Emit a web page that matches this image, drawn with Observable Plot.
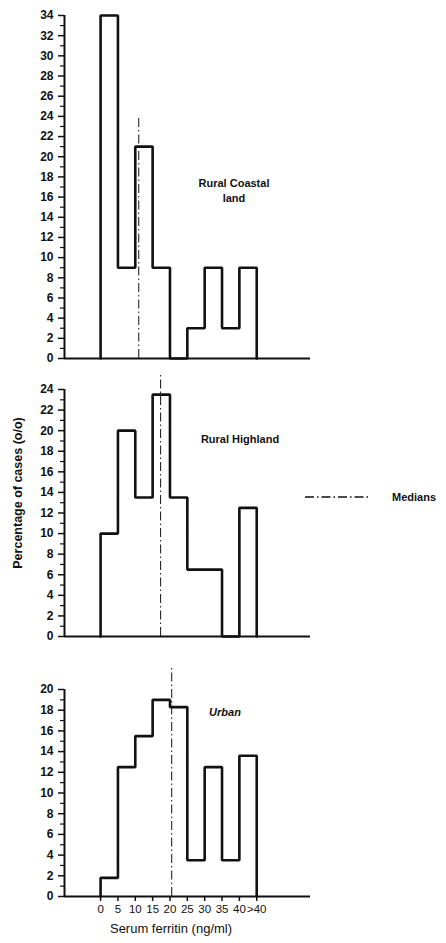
<!DOCTYPE html>
<html>
<head>
<meta charset="utf-8">
<script src="https://cdn.jsdelivr.net/npm/d3@7"></script>
<script src="https://cdn.jsdelivr.net/npm/@observablehq/plot@0.6"></script>
<style>
  html, body { margin: 0; padding: 0; background: #fff; }
  #wrap { position: relative; width: 446px; height: 943px; font-family: "Liberation Sans", Arial, sans-serif; color: #111; }
  .panel { position: absolute; left: 0; }
  .lbl { position: absolute; font-weight: bold; font-size: 11px; white-space: nowrap; }
</style>
</head>
<body>
<div id="wrap"></div>
<script>
// ---- data ----
const binLabels = ["0", "5", "10", "15", "20", "25", "30", "35", "40", ">40"];
const coastal  = [34, 9, 21, 9, 0, 3, 9, 3, 9];
const highland = [10, 20, 13.5, 23.5, 13.5, 6.5, 6.5, 0, 12.5];
const urban    = [1.8, 12.5, 15.5, 19, 18.3, 3.5, 12.5, 3.5, 13.6];
const medians  = [11, 17.3, 20.5];           // ng/ml
const medianTops = [24, 25.5, 22.2];         // top of median line (in % units)
const yMax = [34, 24, 20];
const panelNames = ["Rural Coastal land", "Rural Highland", "Urban"];

const xDomain = [-2.08, 12.1];
const wrap = document.getElementById("wrap");

function stepPoints(vals) {
  return [{x: 0, y: 0}, ...vals.map((v, i) => ({x: i, y: v})), {x: vals.length, y: 0}];
}

function panel(vals, idx, opts) {
  const max = yMax[idx];
  const marks = [
    Plot.ruleY([0], {x1: xDomain[0], x2: xDomain[1], stroke: "#111", strokeWidth: 2}),
    Plot.ruleX([xDomain[0]], {y1: 0, y2: max, stroke: "#111", strokeWidth: 2}),
    Plot.axisY({ticks: d3.range(0, max + 1, 2), tickSize: 6, tickPadding: 5, fontSize: 12, fontWeight: "bold", label: null, stroke: "#111", strokeWidth: 1.5}),
    Plot.axisY({ticks: d3.range(1, max, 2), tickSize: 4, text: null, label: null, stroke: "#111", strokeWidth: 1.2}),
    Plot.ruleX([medians[idx] / 5], {y1: 0, y2: medianTops[idx], stroke: "#111", strokeWidth: 1, strokeDasharray: "9,3,1.5,3"}),
    Plot.line(stepPoints(vals), {x: "x", y: "y", curve: "step-after", stroke: "#111", strokeWidth: 2.6, strokeLinejoin: "miter"})
  ];
  if (opts.xTicks) {
    marks.push(Plot.axisX({ticks: d3.range(0, 10), tickFormat: i => binLabels[i], tickSize: 5, tickPadding: 3, fontSize: 11.5, label: null, stroke: "#111", strokeWidth: 1.5}));
  }
  const svg = Plot.plot({
    width: 446,
    height: opts.height,
    marginLeft: 64,
    marginRight: 136,
    marginTop: opts.mt,
    marginBottom: opts.mb,
    style: {fontFamily: "'Liberation Sans', Arial, sans-serif", color: "#111", background: "transparent"},
    x: {domain: xDomain, axis: null},
    y: {domain: [0, max], axis: null},
    marks
  });
  svg.classList.add("panel");
  svg.style.top = opts.top + "px";
  wrap.appendChild(svg);
}

panel(coastal, 0, {top: 0, height: 370, mt: 15, mb: 12});
panel(highland, 1, {top: 370, height: 280, mt: 19, mb: 14});
panel(urban, 2, {top: 650, height: 293, mt: 39, mb: 47, xTicks: true});

function label(text, x, y, extra) {
  const d = document.createElement("div");
  d.className = "lbl";
  d.textContent = text;
  d.style.left = x + "px";
  d.style.top = y + "px";
  d.style.transform = "translate(-50%, -50%)";
  if (extra) Object.assign(d.style, extra);
  wrap.appendChild(d);
}

label("Rural Coastal", 234, 183);
label("land", 234, 198);
label(panelNames[1], 240, 439);
label(panelNames[2], 225, 712, {fontStyle: "italic"});
label("Serum ferritin (ng/ml)", 171, 928, {fontWeight: "normal", fontSize: "13px"});
label("Percentage of cases (o/o)", 18, 493, {transform: "translate(-50%, -50%) rotate(-90deg)", fontSize: "12.5px"});

// legend
const leg = document.createElementNS("http://www.w3.org/2000/svg", "svg");
leg.setAttribute("width", 70); leg.setAttribute("height", 10);
leg.style.position = "absolute"; leg.style.left = "305px"; leg.style.top = "492px";
const ln = document.createElementNS("http://www.w3.org/2000/svg", "line");
ln.setAttribute("x1", 0); ln.setAttribute("x2", 66); ln.setAttribute("y1", 5); ln.setAttribute("y2", 5);
ln.setAttribute("stroke", "#111"); ln.setAttribute("stroke-width", 1.3);
ln.setAttribute("stroke-dasharray", "9,3,1.5,3");
leg.appendChild(ln);
wrap.appendChild(leg);
label("Medians", 414, 497);
</script>
</body>
</html>
